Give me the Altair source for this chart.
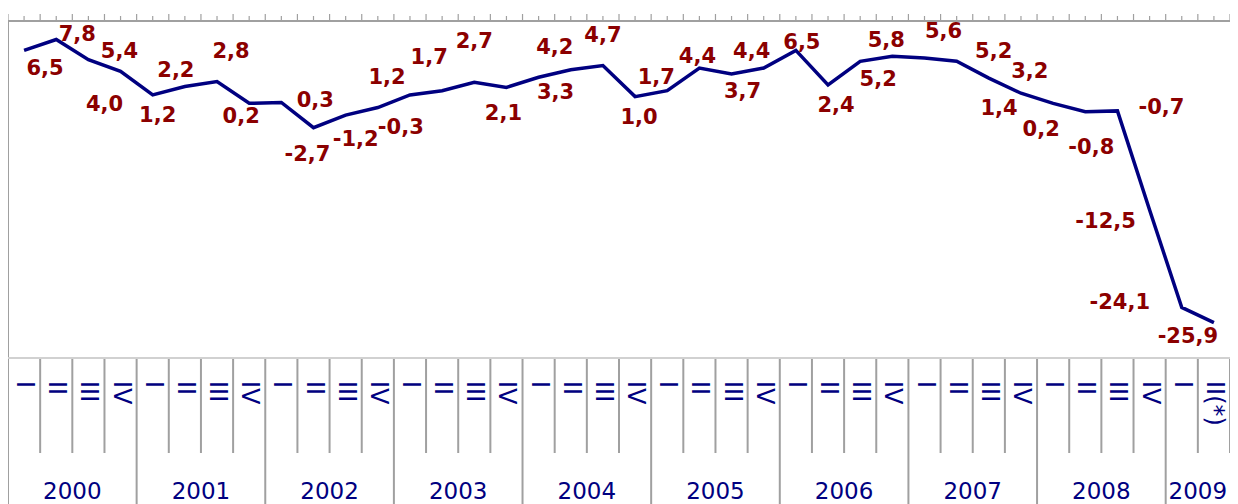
import altair as alt
import pandas as pd

# ---- data ----
years = [2000, 2001, 2002, 2003, 2004, 2005, 2006, 2007, 2008, 2009]
quarters_in_year = [4, 4, 4, 4, 4, 4, 4, 4, 4, 2]
quarter_names = ["I", "II", "III", "IV"]
footnotes = {(2009, 2): "(*)"}
values = [6.5, 7.8, 5.4, 4.0,
          1.2, 2.2, 2.8, 0.2,
          0.3, -2.7, -1.2, -0.3,
          1.2, 1.7, 2.7, 2.1,
          3.3, 4.2, 4.7, 1.0,
          1.7, 4.4, 3.7, 4.4,
          6.5, 2.4, 5.2, 5.8,
          5.6, 5.2, 3.2, 1.4,
          0.2, -0.8, -0.7, -12.5,
          -24.1, -25.9]

# ---- label placement (pixel offsets from each point; styling only) ----
label_dx = [21, 21, 31, -16, 5, -9, 14, -8, 34, -6, 10, 23, -23, -13, 0, -3, 17, -16, 0,
            4, -11, -2, 11, -12, 6, 8, 18, -6, 19, 37, 41, -22, -12, 6, 44, -44, -62, -26]
label_dy = [19, -4, -8, 34, 21, -16, -29, 14, -1, 27, 25, 20, -17, -33, -40, 27, 16, -22, -30,
            21, -13, -11, 18, -16, -7, 21, 19, -15, -26, -9, -6, 16, 27, 36, -3, 12, -4, 14]

# ---- build tables ----
rows = []
year_rows = []
idx = 0
for y, nq in zip(years, quarters_in_year):
    start = idx
    for q in range(1, nq + 1):
        rows.append({"idx": idx, "year": y,
                     "qlabel": quarter_names[q - 1] + footnotes.get((y, q), "")})
        idx += 1
    year_rows.append({"year": str(y), "center": (start + idx - 1) / 2.0,
                      "start": start - 0.5})
df = pd.DataFrame(rows)
df["value"] = values
df["label"] = [f"{v:.1f}".replace(".", ",") for v in values]
df["dx"] = label_dx
df["dy"] = label_dy
ydf = pd.DataFrame(year_rows)

n = len(values)
year_starts = set(ydf["start"])
bdf = pd.DataFrame({"pos": [k - 0.5 for k in range(n + 1)]})
bdf["is_year"] = bdf["pos"].isin(year_starts)
tdf = pd.DataFrame({"pos": [k * 0.5 - 0.5 for k in range(2 * n + 1)]})
tdf["major"] = [k % 2 == 0 for k in range(2 * n + 1)]

W, H = 1222, 336
NAVY = "#000080"
RED = "#8b0000"
GRAY = "#a0a0a0"
FONT = "DejaVu Sans"

xs = alt.Scale(domain=[-0.5, n - 0.5], nice=False, zero=False)
ys = alt.Scale(domain=[-30, 10], nice=False, zero=False)

def X(f):
    return alt.X(f, scale=xs, axis=None)

base = alt.Chart(df)

top_line = base.mark_rule(color=GRAY, strokeWidth=1.5).encode(
    x=alt.value(0), x2=alt.value(W), y=alt.value(0))
left_line = base.mark_rule(color=GRAY, strokeWidth=1.5).encode(
    x=alt.value(0), y=alt.value(0), y2=alt.value(H + 170))
bottom_line = base.mark_rule(color="#d0d0d0", strokeWidth=1.5).encode(
    x=alt.value(0), x2=alt.value(W), y=alt.value(H + 1))

ticks_major = alt.Chart(tdf).transform_filter("datum.major").mark_rule(
    color=GRAY, strokeWidth=1.2).encode(
    x=X("pos:Q"), y=alt.value(0), y2=alt.value(-7))
ticks_minor = alt.Chart(tdf).transform_filter("!datum.major").mark_rule(
    color=GRAY, strokeWidth=1.2).encode(
    x=X("pos:Q"), y=alt.value(0), y2=alt.value(-5))

q_sep = alt.Chart(bdf).transform_filter("!datum.is_year").mark_rule(
    color=GRAY, strokeWidth=2).encode(
    x=X("pos:Q"), y=alt.value(H + 2), y2=alt.value(H + 96))
y_sep = alt.Chart(bdf).transform_filter("datum.is_year").mark_rule(
    color=GRAY, strokeWidth=2).encode(
    x=X("pos:Q"), y=alt.value(H + 2), y2=alt.value(H + 170))

line = base.mark_line(color=NAVY, strokeWidth=3.5).encode(
    x=X("idx:Q"), y=alt.Y("value:Q", scale=ys, axis=None))

labels = base.mark_text(
    font=FONT, fontSize=21, fontWeight="bold", color=RED,
    align="center", baseline="middle",
    dx=alt.ExprRef(expr="datum.dx"), dy=alt.ExprRef(expr="datum.dy")).encode(
    x=X("idx:Q"), y=alt.Y("value:Q", scale=ys, axis=None), text="label:N")

q_labels = base.mark_text(
    font=FONT, fontSize=24, color=NAVY, angle=90,
    align="left", baseline="middle").encode(
    x=X("idx:Q"), y=alt.value(H + 24), text="qlabel:N")

year_labels = alt.Chart(ydf).mark_text(
    font=FONT, fontSize=23, color=NAVY, align="center",
    baseline="alphabetic").encode(
    x=X("center:Q"), y=alt.value(H + 142), text="year:N")

chart = alt.layer(
    top_line, ticks_major, ticks_minor, left_line, bottom_line,
    q_sep, y_sep, line, labels, q_labels, year_labels
).properties(
    width=W, height=H,
    autosize=alt.AutoSizeParams(type="none"),
    padding={"left": 0, "top": 13, "right": 0, "bottom": 160},
    background="white",
).configure_view(stroke=None)

chart.save("out.html", embed_options={"renderer": "svg", "actions": False})
